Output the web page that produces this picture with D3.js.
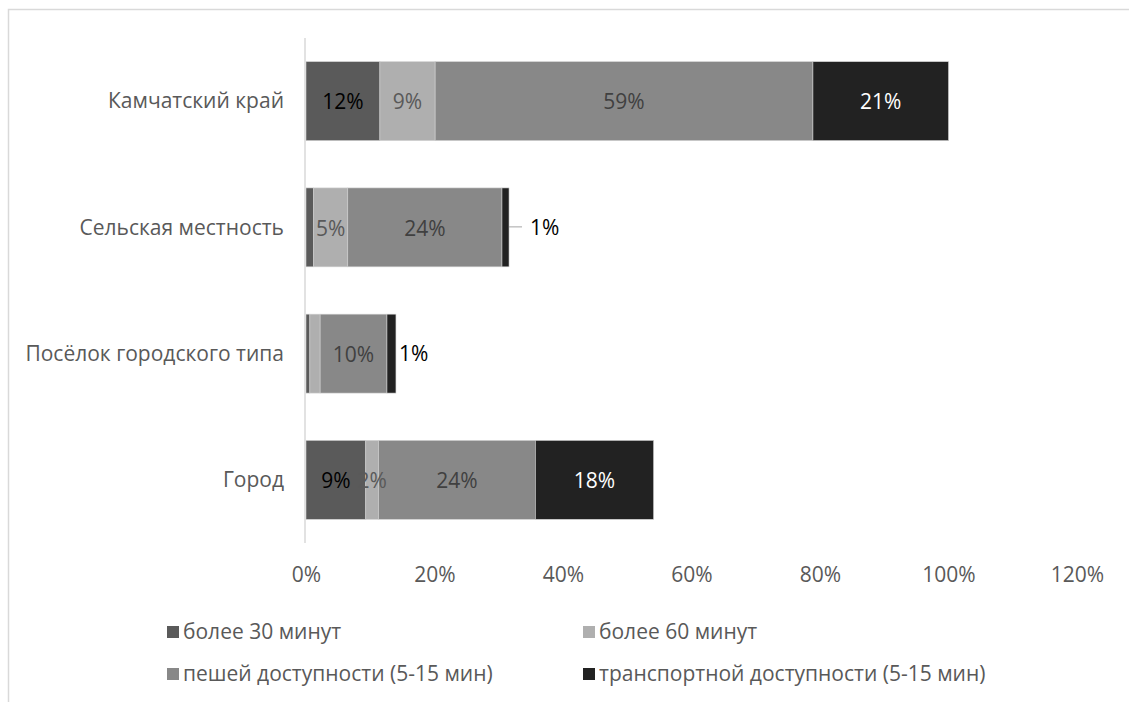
<!DOCTYPE html>
<html><head><meta charset="utf-8">
<script src="https://cdn.jsdelivr.net/npm/d3@7"></script>
<style>body{margin:0;background:#fff}svg{display:block;font-family:"Open Sans",sans-serif}</style>
</head><body><svg id="c" width="1129" height="702"></svg>
<script>
const categories = ["Камчатский край", "Сельская местность", "Посёлок городского типа", "Город"];
const seriesNames = ["более 30 минут", "более 60 минут", "пешей доступности (5-15 мин)", "транспортной доступности (5-15 мин)"];
const colors = ["#5a5a5a", "#afafaf", "#888888", "#222222"];
const labelColors = ["#000000", "#595959", "#404040", "#ffffff"];
// values in % per category, series order as seriesNames
const s30 = [11.5, 1.2, 0.6, 9.3];
const s60 = [8.6, 5.3, 1.6, 2.0];
const sWalk = [58.8, 24.0, 10.4, 24.4];
const sTrans = [21.1, 1.1, 1.4, 18.4];
const labels30 = ["12%", "", "", "9%"];
const labels60 = ["9%", "5%", "", "2%"];
const labelsWalk = ["59%", "24%", "10%", "24%"];
const labelsTrans = ["21%", "1%", "1%", "18%"];
const outsideTrans = [false, true, true, false];
const tickValues = [0, 20, 40, 60, 80, 100, 120];

const series = [s30, s60, sWalk, sTrans];
const labelSets = [labels30, labels60, labelsWalk, labelsTrans];
const FS = 21;

const svg = d3.select("#c");
// frame
svg.append("path").attr("d", "M8.5,702 V9.5 H1129").attr("fill", "none").attr("stroke", "#d9d9d9").attr("stroke-width", 1.5);

const x = d3.scaleLinear().domain([0, 120]).range([306, 1077]);
const y = d3.scaleBand().domain(categories).range([38, 543]).paddingInner(0.375).paddingOuter(0.1875);

const rows = categories.map((c, i) => {
  let acc = 0;
  return series.map((s, k) => { const r = {cat: c, k, x0: acc, x1: acc + s[i], label: labelSets[k][i], i}; acc += s[i]; return r; });
});

const g = svg.append("g");
rows.forEach(r => {
  g.selectAll(null).data(r).join("rect")
    .attr("x", d => x(d.x0)).attr("width", d => x(d.x1) - x(d.x0))
    .attr("y", d => y(d.cat)).attr("height", y.bandwidth())
    .attr("fill", d => colors[d.k]).attr("stroke", "#d0d0d0").attr("stroke-width", 0.6);
});

// axis line
svg.append("line").attr("x1", x(0) - 1).attr("x2", x(0) - 1).attr("y1", 38).attr("y2", 543).attr("stroke", "#d9d9d9").attr("stroke-width", 1.5);

// data labels
rows.forEach(r => {
  r.forEach(d => {
    if (!d.label) return;
    const cy = y(d.cat) + y.bandwidth() / 2;
    if (d.k === 3 && outsideTrans[d.i]) {
      const ex = x(d.x1);
      if (d.i === 1) {
        svg.append("line").attr("x1", ex).attr("x2", ex + 13).attr("y1", cy - 0.5).attr("y2", cy - 0.5).attr("stroke", "#a6a6a6").attr("stroke-width", 1);
        svg.append("text").attr("x", ex + 21).attr("y", cy).attr("dy", "0.35em").attr("font-size", FS).attr("fill", "#000").text(d.label);
      } else {
        svg.append("text").attr("x", ex + 3).attr("y", cy).attr("dy", "0.35em").attr("font-size", FS).attr("fill", "#000").text(d.label);
      }
      return;
    }
    svg.append("text").attr("x", (x(d.x0) + x(d.x1)) / 2).attr("y", cy + 1).attr("dy", "0.35em")
      .attr("text-anchor", "middle").attr("font-size", FS).attr("fill", labelColors[d.k]).text(d.label);
  });
});

// category axis
const yAxis = svg.append("g").attr("transform", `translate(${x(0) - 22},0)`).call(d3.axisLeft(y).tickSize(0).tickPadding(0));
yAxis.select(".domain").remove();
yAxis.selectAll("text").attr("font-size", FS).attr("fill", "#595959").attr("font-family", "Open Sans").attr("dy", "0.35em");

// x axis
const xAxis = svg.append("g").attr("transform", "translate(0,582)").call(d3.axisBottom(x).tickValues(tickValues).tickFormat(d => d + "%").tickSize(0).tickPadding(0));
xAxis.select(".domain").remove();
xAxis.selectAll("text").attr("font-size", FS).attr("fill", "#595959").attr("font-family", "Open Sans").attr("dy", "0").attr("y", 0);

// legend
const legPos = [[167, 632], [583, 632], [167, 674], [583, 674]];
seriesNames.forEach((n, k) => {
  const [lx, ly] = legPos[k];
  svg.append("rect").attr("x", lx).attr("y", ly - 6).attr("width", 12).attr("height", 12).attr("fill", colors[k]);
  svg.append("text").attr("x", lx + 16).attr("y", ly).attr("dy", "0.35em").attr("font-size", FS).attr("fill", "#595959").text(n);
});
</script></body></html>
